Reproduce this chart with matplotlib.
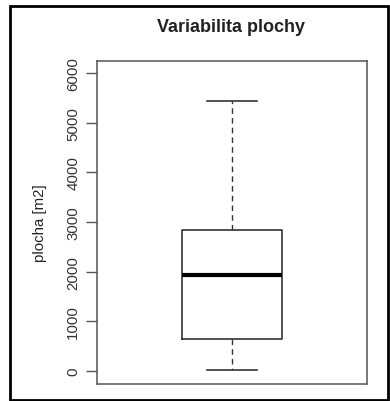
import matplotlib
matplotlib.use("Agg")
import matplotlib.pyplot as plt
from matplotlib.patches import Rectangle

# box statistics (plocha in m2)
label = "plocha"
whisker_low = 10
q1 = 650
median = 1925
q3 = 2830
whisker_high = 5430
y_ticks = [0, 1000, 2000, 3000, 4000, 5000, 6000]

plt.rcParams["font.family"] = ["Liberation Sans", "DejaVu Sans"]

fig = plt.figure(figsize=(3.9, 4.02), dpi=100)
W, H = 390, 402
ax = fig.add_axes([97 / W, 1 - 385 / H, (367 - 97) / W, (385 - 62) / H])

stats = [{
    "label": label,
    "whislo": whisker_low,
    "q1": q1,
    "med": median,
    "q3": q3,
    "whishi": whisker_high,
    "fliers": [],
}]

edge = "#333333"
ax.bxp(
    stats, positions=[1], widths=0.4, showfliers=False,
    boxprops=dict(color=edge, linewidth=1.2),
    medianprops=dict(color="black", linewidth=3),
    whiskerprops=dict(color=edge, linewidth=1.0, linestyle=(0, (4, 3))),
    capprops=dict(color=edge, linewidth=1.2),
    capwidths=0.2,
)

ax.set_xlim(0.46, 1.54)
ax.set_ylim(-262, 6240)
ax.set_xticks([])
ax.set_yticks(y_ticks)
ax.set_yticklabels([str(v) for v in y_ticks], rotation=90, va="center",
                   fontsize=10.8, color="#333333")
ax.tick_params(axis="y", length=8, width=1, color="#555555", pad=4)
for s in ax.spines.values():
    s.set_color("#555555")
    s.set_linewidth(1.1)

ax.set_ylabel("plocha [m2]", fontsize=10.8, color="#222222", labelpad=14)
fig.text(231 / W, 1 - 27 / H, "Variabilita plochy", ha="center", va="center",
         fontsize=13, fontweight="bold", color="#222222")

# outer black frame
fig.patches.append(Rectangle((10 / W, 1 / H), (388 - 10) / W, (394 - 0) / H,
                             transform=fig.transFigure, fill=False,
                             edgecolor="black", linewidth=2))

fig.savefig("out.png", dpi=100)
